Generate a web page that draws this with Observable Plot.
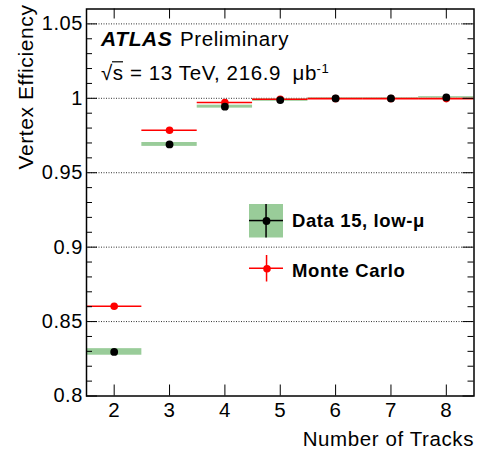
<!DOCTYPE html>
<html>
<head>
<meta charset="utf-8">
<script src="https://cdn.jsdelivr.net/npm/d3@7"></script>
<script src="https://cdn.jsdelivr.net/npm/@observablehq/plot@0.6"></script>
<style>
  body { margin: 0; background: #fff; }
  #chart svg text { letter-spacing: 0.6px; }
</style>
</head>
<body>
<div id="chart"></div>
<script>
// Vertex reconstruction efficiency vs. number of tracks
const nTracks   = [2, 3, 4, 5, 6, 7, 8];
const dataEff   = [0.8296, 0.9690, 0.9944, 0.9988, 0.9999, 0.9999, 1.0006];
const dataSyst  = [0.0022, 0.0013, 0.0010, 0.0008, 0.0004, 0.0004, 0.0005];
const mcEff     = [0.8603, 0.9785, 0.9972, 0.9994, 0.9998, 0.9998, 0.9998];

const xTicks      = [2, 3, 4, 5, 6, 7, 8];
const yTicks      = [0.8, 0.85, 0.9, 0.95, 1, 1.05];
const yTickLabels = ["0.8", "0.85", "0.9", "0.95", "1", "1.05"];
const gridY       = [0.85, 0.9, 0.95, 1, 1.05];
const yMinor      = d3.range(81, 106).map(v => v / 100).filter(v => !yTicks.includes(v));

const legendData  = "Data 15, low-\u03bc";
const legendMC    = "Monte Carlo";

const rows = nTracks.map((n, i) => ({n, eff: dataEff[i], syst: dataSyst[i], mc: mcEff[i]}));

// frame geometry
const W = 477, H = 450;
const mL = 86, mR = 3.5, mT = 8.5, mB = 54.5;
const fx0 = mL, fx1 = W - mR, fy0 = mT, fy1 = H - mB;
const plotW = fx1 - fx0, plotH = fy1 - fy0;
const majorLen = 11, minorLen = 6;
const fs = 20.5;

// a filled box placed inside the frame (legend pieces)
const box = (x0, y0, x1, y1, fill) => Plot.rect([0], {
  insetLeft: x0 - fx0, insetRight: fx1 - x1,
  insetTop: y0 - fy0, insetBottom: fy1 - y1, fill
});
const label = (t, x, y, opts = {}) => Plot.text([t], {
  text: d => d, frameAnchor: "top-left", dx: x - fx0, dy: y - fy0,
  textAnchor: "start", lineAnchor: "bottom", fill: "#000", fontSize: fs, ...opts
});

const chart = Plot.plot({
  width: W, height: H,
  marginLeft: mL, marginRight: mR, marginTop: mT, marginBottom: mB,
  style: {fontFamily: "'Liberation Sans', Arial, Helvetica, sans-serif", fontSize: fs + "px", color: "#000", background: "#fff"},
  x: {domain: [1.5, 8.5], axis: null},
  y: {domain: [0.8, 1.06], axis: null},
  marks: [
    // dotted reference lines
    Plot.ruleY(gridY, {y: d => d, stroke: "#333", strokeWidth: 1, strokeDasharray: "1,1.5"}),
    // data with systematic band
    Plot.rect(rows, {x1: d => d.n - 0.5, x2: d => d.n + 0.5, y1: d => d.eff - d.syst, y2: d => d.eff + d.syst, fill: "#99cc99"}),
    // Monte Carlo
    Plot.ruleY(rows, {y: "mc", x1: d => d.n - 0.5, x2: d => d.n + 0.5, stroke: "#ff0000", strokeWidth: 1.6}),
    Plot.dot(rows, {x: "n", y: "mc", r: 3.8, fill: "#ff0000"}),
    Plot.dot(rows, {x: "n", y: "eff", r: 3.9, fill: "#000"}),
    // inward ticks on all four sides
    Plot.tickY(yTicks, {y: d => d, insetRight: plotW - majorLen, stroke: "#000", strokeWidth: 1}),
    Plot.tickY(yTicks, {y: d => d, insetLeft: plotW - majorLen, stroke: "#000", strokeWidth: 1}),
    Plot.tickY(yMinor, {y: d => d, insetRight: plotW - minorLen, stroke: "#000", strokeWidth: 1}),
    Plot.tickY(yMinor, {y: d => d, insetLeft: plotW - minorLen, stroke: "#000", strokeWidth: 1}),
    Plot.tickX(xTicks, {x: d => d, insetTop: plotH - majorLen, stroke: "#000", strokeWidth: 1}),
    Plot.tickX(xTicks, {x: d => d, insetBottom: plotH - 10, stroke: "#000", strokeWidth: 1}),
    Plot.frame({stroke: "#000", strokeWidth: 1.5}),
    Plot.axisY(yTicks, {anchor: "left", tickSize: 0, tickPadding: 3.5, fontSize: 20,
      tickFormat: d => yTickLabels[yTicks.indexOf(d)], label: null}),
    Plot.axisX(xTicks, {anchor: "bottom", tickSize: 0, tickPadding: 6.5, fontSize: fs,
      tickFormat: d => String(d), label: null}),
    // axis titles
    Plot.text(["Number of Tracks"], {text: d => d, frameAnchor: "bottom-right", dx: 0, dy: 49.5,
      textAnchor: "end", lineAnchor: "bottom", fontSize: fs, fill: "#000"}),
    Plot.text(["Vertex Efficiency"], {text: d => d, frameAnchor: "top-left", dx: 32.5 - fx0, dy: 4 - fy0,
      rotate: -90, textAnchor: "end", lineAnchor: "bottom", fontSize: 21, fill: "#000"}),
    // experiment label
    label("ATLAS", 100.5, 45, {fontWeight: "bold", fontStyle: "italic", fontSize: 21}),
    label("Preliminary", 179.5, 45),
    label("\u221as = 13 TeV, 216.9", 100.5, 79),
    box(112, 61.2, 123, 62.4, "#000"),
    label("\u03bcb", 292, 79),
    label("-1", 316, 72.5, {fontSize: 13}),
    // legend
    box(249, 204, 283, 237.5, "#99cc99"),
    box(249, 219.8, 283, 221.3, "#000"),
    box(265.3, 204, 266.8, 237.5, "#000"),
    Plot.dot([0], {frameAnchor: "top-left", dx: 266 - fx0, dy: 220.5 - fy0, r: 3.9, fill: "#000"}),
    box(249, 267.5, 283, 269, "#ff0000"),
    box(265.8, 255, 267.3, 281.5, "#ff0000"),
    Plot.dot([0], {frameAnchor: "top-left", dx: 266.5 - fx0, dy: 268.3 - fy0, r: 3.8, fill: "#ff0000"}),
    label(legendData, 291.5, 226, {fontWeight: "bold", fontSize: 18.5}),
    label(legendMC, 291.5, 276.5, {fontWeight: "bold", fontSize: 18.5})
  ]
});

document.getElementById("chart").appendChild(chart);
</script>
</body>
</html>
